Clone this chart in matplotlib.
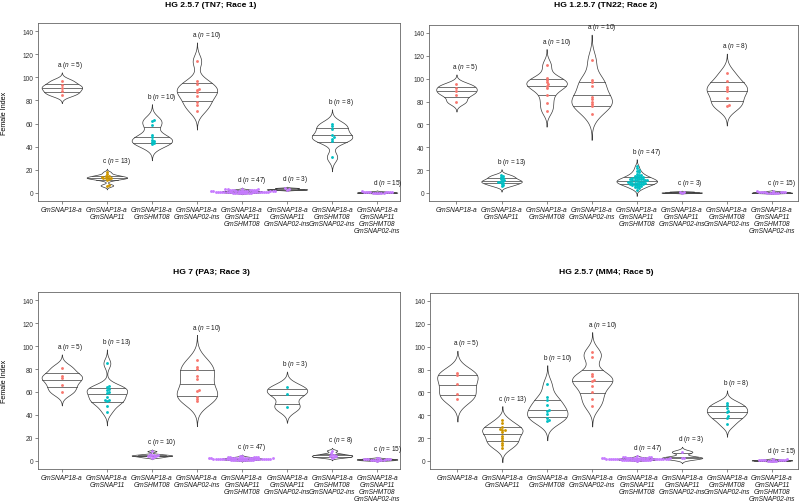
import numpy as np
import matplotlib.pyplot as plt

plt.rcParams['font.family'] = ['Liberation Sans', 'DejaVu Sans']
plt.rcParams['mathtext.fontset'] = 'custom'
plt.rcParams['mathtext.rm'] = 'Liberation Sans'
plt.rcParams['mathtext.it'] = 'Liberation Sans:italic'

genotypes = ['GmSNAP18-a',
             'GmSNAP18-a\nGmSNAP11',
             'GmSNAP18-a\nGmSHMT08',
             'GmSNAP18-a\nGmSNAP02-ins',
             'GmSNAP18-a\nGmSNAP11\nGmSHMT08',
             'GmSNAP18-a\nGmSNAP11\nGmSNAP02-ins',
             'GmSNAP18-a\nGmSHMT08\nGmSNAP02-ins',
             'GmSNAP18-a\nGmSNAP11\nGmSHMT08\nGmSNAP02-ins']

# HG 2.5.7 (TN7; Race 1)
tn7_values = [
    [97, 93, 91, 88, 85],
    [18, 16, 15, 14.5, 14, 13.5, 13, 13, 12.5, 12, 11, 7, 6],
    [63, 62, 59, 50, 48, 46, 45, 44, 43, 42],
    [114, 97, 94, 90, 89, 87, 84, 79, 76, 71],
    [0.0, 0.0, 0.0, 0.0, 0.0, 0.0, 0.2, 0.3, 0.4, 0.5, 0.5, 0.6, 0.7, 0.8, 0.8, 0.9,
     1.0, 1.0, 1.0, 1.0, 1.1, 1.2, 1.2, 1.3, 1.4, 1.5, 1.5, 1.6, 1.7, 1.8, 1.9, 2.0,
     2.0, 2.0, 2.1, 2.2, 2.4, 2.5, 2.5, 2.7, 2.8, 3.0, 3.0, 3.2, 3.5, 0.1, 1.1],
    [2.8, 3.2, 4.2],
    [60, 58, 55, 50, 48, 47, 45, 31],
    [0.0, 0.0, 0.0, 0.1, 0.2, 0.3, 0.4, 0.5, 0.5, 0.6, 0.8, 1.0, 1.0, 1.2, 1.5],
]
tn7_letters = ['a', 'c', 'b', 'a', 'd', 'd', 'b', 'd']

# HG 1.2.5.7 (TN22; Race 2)
tn22_values = [
    [95, 92, 89, 86, 80],
    [16, 15, 14, 13, 12, 11, 10.5, 10, 9.5, 9, 8, 7, 6],
    [112, 101, 99, 97, 95, 94, 92, 86, 79, 72],
    [116, 99, 97, 94, 84, 82, 80, 78, 76, 69],
    [24, 22, 20, 19, 18, 17, 16, 16, 15, 15, 14, 14, 14, 13, 13, 13, 12, 12, 12, 12,
     11, 11, 11, 11, 11, 10, 10, 10, 10, 10, 9, 9, 9, 9, 8, 8, 8, 8, 7, 7, 7, 6, 6,
     5, 5, 4, 3],
    [0.2, 0.5, 1.2],
    [105, 98, 93, 91, 89, 83, 77, 76],
    [0.0, 0.0, 0.0, 0.0, 0.2, 0.3, 0.5, 0.5, 0.6, 0.8, 1.0, 1.0, 1.2, 1.5, 1.8],
]
tn22_letters = ['a', 'b', 'a', 'a', 'b', 'c', 'a', 'c']

# HG 7 (PA3; Race 3)
pa3_values = [
    [81, 74, 72, 66, 60],
    [85, 65, 64, 63, 62, 60, 59, 56, 53, 53, 52, 48, 43],
    [8.5, 6, 5.5, 5, 5, 4.5, 4.5, 4, 3.5, 3],
    [88, 82, 80, 74, 71, 62, 61, 56, 54, 52],
    [0.5, 0.5, 0.8, 1.0, 1.0, 1.0, 1.2, 1.3, 1.5, 1.5, 1.5, 1.7, 1.8, 2.0, 2.0, 2.0,
     2.0, 2.1, 2.2, 2.3, 2.5, 2.5, 2.5, 2.6, 2.8, 3.0, 3.0, 3.0, 3.2, 3.5, 3.5, 4.0,
     4.5, 1.1, 1.4, 1.9, 2.4, 0.9, 1.6, 2.7, 3.3, 1.2, 2.1, 1.8, 2.9, 0.7, 3.8],
    [64, 58.5, 47],
    [9, 6.5, 5.5, 5, 4.5, 4, 3.5, 3],
    [0.3, 0.5, 0.6, 0.8, 1.0, 1.0, 1.2, 1.3, 1.5, 1.5, 1.7, 2.0, 2.0, 2.3, 2.6],
]
pa3_letters = ['a', 'b', 'c', 'a', 'c', 'b', 'c', 'c']

# HG 2.5.7 (MM4; Race 5)
mm4_values = [
    [77, 75, 67, 59, 54],
    [36, 33, 30, 28, 27, 27, 25, 22, 20, 18, 16, 14, 11],
    [67, 56, 53, 49, 45, 44, 41, 38, 36, 35],
    [95, 91, 76, 74, 71, 70, 66, 60, 54, 48],
    [0.3, 0.5, 0.7, 0.8, 1.0, 1.0, 1.0, 1.1, 1.2, 1.3, 1.4, 1.5, 1.5, 1.6, 1.7, 1.8,
     1.9, 2.0, 2.0, 2.0, 2.1, 2.2, 2.3, 2.4, 2.5, 2.5, 2.6, 2.8, 3.0, 3.0, 3.2, 3.5,
     3.8, 1.2, 1.5, 1.8, 2.2, 0.9, 1.7, 2.7, 3.3, 1.3, 2.1, 1.9, 2.9, 0.6, 4.2],
    [8, 3, 2.5],
    [51, 49, 46, 44, 42.5, 39, 37.5, 32],
    [0.0, 0.0, 0.2, 0.3, 0.4, 0.5, 0.5, 0.6, 0.8, 0.8, 1.0, 1.0, 1.2, 1.5, 1.8],
]
mm4_letters = ['a', 'c', 'b', 'a', 'd', 'd', 'b', 'd']

titles = ['HG 2.5.7 (TN7; Race 1)', 'HG 1.2.5.7 (TN22; Race 2)',
          'HG 7 (PA3; Race 3)', 'HG 2.5.7 (MM4; Race 5)']

pal4 = {'a': '#F8766D', 'b': '#00BFC4', 'c': '#CD9600', 'd': '#C77CFF'}
pal3 = {'a': '#F8766D', 'b': '#00BFC4', 'c': '#C77CFF'}

W, H = 800, 502
fig = plt.figure(figsize=(8, 5.02), dpi=100)

# panel boxes in pixels: left, top, right, bottom
boxes = [(38, 24, 400, 202), (429, 26, 798, 202),
         (38, 293, 400, 470), (430, 294, 798, 470)]
xlims = [(0.47, 8.51), (0.39, 8.58), (0.47, 8.51), (0.39, 8.58)]
title_pos = [(211, 5.5), (606, 5.5), (211, 273), (606, 273)]
YLIM = (-7, 147)
LINE = '#3a3a3a'


def bw_nrd0(x):
    x = np.asarray(x, float)
    hi = np.std(x, ddof=1)
    q75, q25 = np.percentile(x, [75, 25])
    lo = min(hi, (q75 - q25) / 1.34)
    if lo == 0:
        lo = hi or abs(x[0]) or 1
    return 0.9 * lo * len(x) ** -0.2


def kde(x):
    x = np.asarray(x, float)
    bw = bw_nrd0(x)
    ys = np.linspace(x.min() - 3 * bw, x.max() + 3 * bw, 512)
    d = np.exp(-0.5 * ((ys[:, None] - x[None, :]) / bw) ** 2).sum(1)
    d /= len(x) * bw * np.sqrt(2 * np.pi)
    return ys, d


def swarm(vals, sx, sy, diam):
    # simple beeswarm in pixel space
    vals = np.asarray(vals, float)
    order = np.argsort(vals, kind='stable')
    xs = np.zeros(len(vals))
    placed = []
    for i in order:
        y = vals[i] * sy
        near = [(px, py) for px, py in placed if abs(py - y) < diam]
        cands = [0.0]
        for px, py in near:
            dx = np.sqrt(diam ** 2 - (py - y) ** 2)
            cands += [px + dx, px - dx]
        cands = sorted(cands, key=lambda c: (round(abs(c), 6), -c))
        for c in cands:
            if all((c - px) ** 2 + (y - py) ** 2 >= diam ** 2 - 1e-6 for px, py in near):
                xs[i] = c
                break
        placed.append((xs[i], y))
    return xs / sx


panels = [(tn7_values, tn7_letters), (tn22_values, tn22_letters),
          (pa3_values, pa3_letters), (mm4_values, mm4_letters)]

for k, (values, letters) in enumerate(panels):
    l, t, r, b = boxes[k]
    ax = fig.add_axes([l / W, 1 - b / H, (r - l) / W, (b - t) / H])
    ax.set_xlim(*xlims[k])
    ax.set_ylim(*YLIM)
    sx = (r - l) / (xlims[k][1] - xlims[k][0])
    sy = (b - t) / (YLIM[1] - YLIM[0])
    pal = pal4 if len(set(letters)) == 4 else pal3

    for i, (vals, let) in enumerate(zip(values, letters)):
        pos = i + 1
        ys, d = kde(vals)
        half = d / d.max() * 0.45
        ax.fill_betweenx(ys, pos - half, pos + half, facecolor='white',
                         edgecolor=LINE, linewidth=0.5, zorder=2)
        cdf = np.cumsum(d) / d.sum()
        for q in (0.25, 0.5, 0.75):
            yq = np.interp(q, cdf, ys)
            hq = np.interp(yq, ys, half)
            ax.plot([pos - hq, pos + hq], [yq, yq], color=LINE, lw=0.5, zorder=3)
        off = swarm(vals, sx, sy, 2.2)
        ax.scatter(pos + off, vals, s=4.2, color=pal[let], linewidths=0, zorder=4)
        ax.text(pos - 0.1, ys.max() + 2, let + r' ($\it{n}$ = %d)' % len(vals),
                ha='left', va='bottom', fontsize=4.7, color='#1a1a1a')

    ax.set_xticks(range(1, 9))
    ax.set_xticklabels(genotypes, fontsize=4.8, style='italic', linespacing=1.0,
                       color='#1a1a1a')
    ax.set_yticks(range(0, 141, 20))
    ax.tick_params(axis='y', labelsize=4.8, labelcolor='#333333')
    ax.tick_params(length=2, width=0.5, color='#555555', pad=1.5)
    for s in ax.spines.values():
        s.set_color('#666666')
        s.set_linewidth(0.6)
    if k % 2 == 0:
        fig.text(5 / W, 1 - (t + b) / 2 / H, 'Female Index', rotation=90,
                 ha='center', va='center', fontsize=5.1)
    fig.text(title_pos[k][0] / W, 1 - title_pos[k][1] / H, titles[k],
             ha='center', va='center', fontsize=6.1, fontweight='bold')

fig.savefig('out.png', dpi=100)
